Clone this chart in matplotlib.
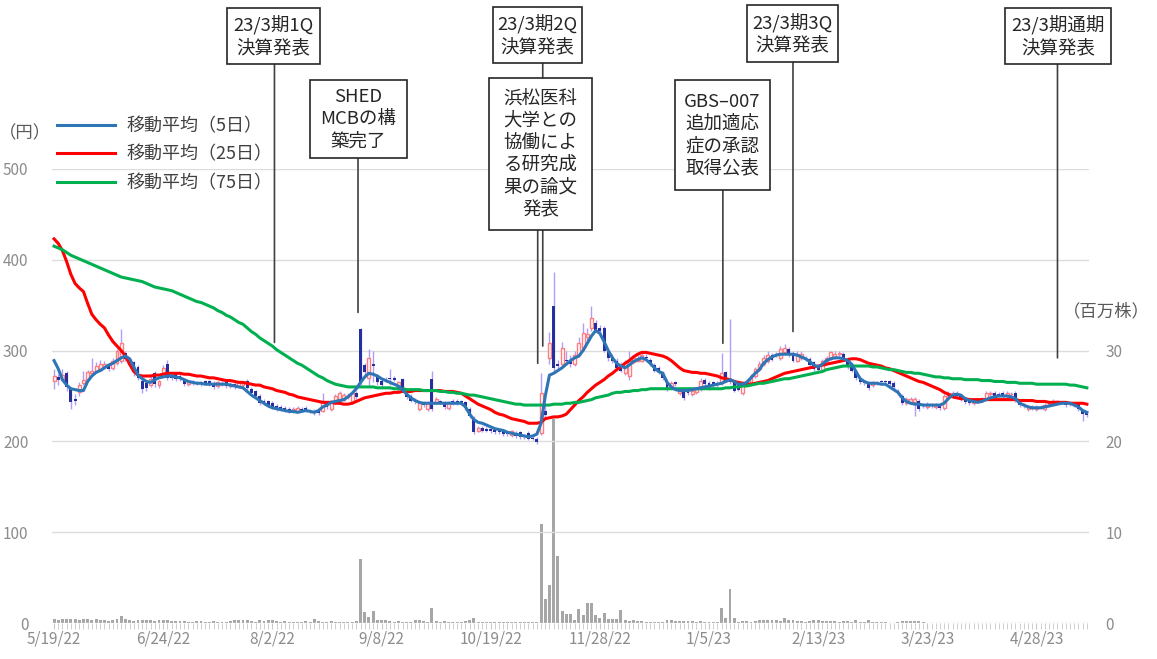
import numpy as np
import pandas as pd
import matplotlib
matplotlib.use('Agg')
import matplotlib.pyplot as plt
from matplotlib.patches import Rectangle, ConnectionPatch
from matplotlib.transforms import blended_transform_factory

plt.rcParams['font.family'] = ['Noto Sans CJK JP', 'DejaVu Sans']

# Tokyo exchange closed days inside the period
holidays = ['2022-07-18', '2022-08-11', '2022-09-19', '2022-09-23', '2022-10-10',
            '2022-11-03', '2022-11-23', '2023-01-02', '2023-01-03', '2023-01-09',
            '2023-02-23', '2023-03-21', '2023-05-03', '2023-05-04', '2023-05-05']
dates = pd.bdate_range('2022-05-19', '2023-05-19', freq='C', holidays=holidays)

tick_labels = ['5/19/22', '6/24/22', '8/2/22', '9/8/22', '10/19/22',
               '11/28/22', '1/5/23', '2/13/23', '3/23/23', '4/28/23']

# daily prices (yen)
opens = [266, 271, 268, 275, 258, 247, 254, 264, 269, 275,
         277, 279, 283, 284, 281, 286, 288, 297, 285, 287,
         282, 266, 264, 262, 275, 262, 275, 285, 272, 274,
         272, 267, 263, 266, 265, 265, 266, 266, 264, 261,
         264, 265, 261, 263, 261, 262, 267, 258, 255, 250,
         245, 244, 242, 239, 238, 237, 236, 233, 234, 236,
         237, 234, 234, 233, 234, 242, 236, 243, 245, 246,
         249, 243, 253, 324, 284, 270, 285, 272, 267, 268,
         270, 270, 258, 269, 256, 250, 246, 236, 242, 236,
         269, 243, 244, 243, 237, 245, 245, 244, 243, 236,
         226, 212, 215, 214, 214, 213, 211, 212, 209, 207,
         209, 210, 206, 209, 204, 203, 209, 234, 292, 349,
         285, 285, 290, 290, 285, 295, 303, 315, 325, 330,
         325, 325, 298, 293, 289, 284, 275, 272, 287, 289,
         289, 293, 290, 284, 281, 275, 267, 261, 265, 253,
         256, 254, 252, 254, 258, 268, 264, 265, 263, 264,
         276, 270, 265, 262, 253, 264, 264, 272, 280, 285,
         288, 295, 296, 292, 298, 302, 297, 289, 292, 292,
         291, 287, 282, 278, 288, 292, 293, 296, 296, 291,
         282, 277, 270, 266, 265, 262, 265, 266, 266, 266,
         264, 256, 250, 242, 243, 243, 245, 240, 238, 240,
         238, 240, 237, 250, 252, 253, 250, 247, 244, 242,
         245, 245, 248, 252, 253, 252, 253, 250, 252, 253,
         242, 240, 236, 237, 236, 238, 236, 240, 242, 243,
         243, 243, 242, 241, 241, 234, 232]
closes = [272, 268, 273, 260, 243, 245, 262, 268, 276, 278,
          283, 285, 285, 280, 289, 299, 308, 291, 290, 276,
          270, 258, 259, 269, 263, 266, 281, 270, 270, 269,
          269, 263, 265, 264, 264, 263, 264, 263, 260, 265,
          263, 261, 263, 260, 265, 264, 259, 253, 250, 242,
          242, 240, 238, 236, 236, 235, 233, 236, 237, 235,
          234, 233, 231, 231, 244, 238, 244, 250, 253, 251,
          250, 253, 249, 265, 276, 292, 283, 265, 262, 267,
          269, 268, 265, 256, 249, 245, 243, 242, 240, 242,
          236, 247, 243, 238, 243, 242, 242, 242, 237, 228,
          210, 215, 212, 212, 211, 210, 210, 208, 208, 211,
          206, 205, 205, 203, 203, 199, 253, 229, 308, 281,
          283, 303, 288, 285, 295, 308, 319, 318, 336, 322,
          322, 300, 292, 289, 281, 278, 287, 289, 292, 292,
          295, 292, 285, 278, 276, 270, 258, 264, 263, 256,
          248, 253, 255, 258, 267, 263, 259, 261, 262, 275,
          267, 265, 256, 257, 265, 267, 272, 280, 285, 292,
          295, 290, 295, 302, 303, 295, 289, 296, 296, 291,
          284, 280, 279, 289, 292, 298, 296, 297, 292, 282,
          278, 270, 265, 264, 259, 265, 264, 265, 265, 263,
          260, 253, 242, 247, 247, 247, 236, 239, 241, 239,
          240, 237, 250, 253, 253, 250, 247, 243, 242, 245,
          246, 247, 253, 253, 250, 251, 250, 253, 252, 245,
          240, 239, 238, 238, 238, 238, 240, 241, 245, 244,
          243, 240, 241, 240, 236, 230, 229]
highs = [280, 274, 280, 277, 260, 252, 265, 278, 279, 292,
         287, 290, 289, 286, 292, 302, 324, 300, 292, 289,
         284, 268, 266, 272, 277, 268, 284, 290, 275, 276,
         274, 269, 267, 268, 267, 267, 268, 268, 266, 267,
         266, 267, 265, 265, 267, 266, 269, 260, 257, 252,
         247, 246, 244, 241, 240, 239, 238, 238, 239, 238,
         239, 236, 236, 235, 253, 244, 246, 252, 255, 253,
         253, 255, 255, 325, 286, 302, 300, 274, 269, 271,
         280, 272, 267, 270, 258, 252, 248, 244, 244, 244,
         278, 249, 246, 245, 245, 247, 247, 246, 245, 238,
         228, 217, 217, 216, 216, 215, 213, 214, 211, 213,
         211, 212, 208, 211, 206, 205, 275, 240, 320, 386,
         290, 310, 300, 295, 300, 315, 330, 325, 349, 334,
         328, 327, 300, 296, 292, 287, 290, 300, 295, 295,
         298, 296, 292, 286, 283, 277, 269, 266, 267, 258,
         258, 256, 257, 260, 270, 270, 266, 267, 266, 297,
         278, 335, 267, 264, 267, 269, 274, 282, 288, 295,
         300, 297, 298, 305, 307, 304, 299, 299, 300, 294,
         293, 289, 284, 291, 294, 300, 299, 299, 298, 293,
         284, 279, 272, 268, 267, 267, 267, 268, 268, 268,
         266, 258, 252, 249, 249, 249, 247, 242, 243, 242,
         242, 242, 252, 255, 255, 255, 252, 249, 246, 247,
         248, 249, 255, 255, 255, 254, 255, 255, 254, 255,
         244, 242, 240, 240, 240, 240, 242, 243, 247, 246,
         245, 245, 244, 243, 243, 236, 234]
lows = [258, 262, 266, 255, 236, 240, 250, 262, 267, 273,
        275, 277, 280, 278, 279, 284, 286, 288, 282, 272,
        268, 253, 255, 260, 260, 259, 272, 268, 268, 267,
        267, 261, 261, 262, 262, 261, 262, 261, 258, 259,
        261, 259, 259, 258, 259, 260, 257, 251, 248, 240,
        240, 238, 236, 234, 234, 232, 231, 231, 232, 233,
        232, 231, 229, 229, 232, 236, 234, 241, 243, 244,
        247, 241, 247, 262, 273, 262, 265, 262, 260, 265,
        262, 266, 256, 254, 247, 243, 241, 234, 238, 234,
        234, 241, 241, 236, 235, 240, 240, 240, 235, 226,
        208, 210, 210, 210, 209, 208, 208, 206, 206, 205,
        204, 203, 203, 201, 201, 197, 207, 226, 285, 278,
        280, 282, 285, 282, 283, 293, 300, 312, 322, 320,
        319, 298, 289, 286, 278, 276, 273, 268, 285, 287,
        287, 290, 283, 276, 274, 268, 256, 259, 261, 251,
        246, 251, 250, 252, 256, 261, 257, 259, 260, 262,
        265, 263, 254, 255, 251, 262, 262, 270, 278, 283,
        286, 288, 293, 290, 296, 293, 287, 287, 290, 289,
        282, 278, 277, 276, 286, 290, 291, 294, 290, 280,
        276, 268, 263, 262, 257, 260, 262, 263, 263, 261,
        258, 251, 240, 240, 241, 228, 234, 237, 236, 237,
        236, 235, 235, 248, 250, 248, 245, 241, 240, 240,
        243, 243, 246, 250, 248, 249, 248, 248, 250, 243,
        238, 237, 234, 235, 234, 236, 234, 238, 240, 241,
        241, 238, 239, 238, 234, 223, 227]

# daily volume (million shares)
volume = [0.4, 0.3, 0.4, 0.4, 0.4, 0.4, 0.3, 0.45, 0.45, 0.3,
          0.4, 0.3, 0.3, 0.2, 0.3, 0.4, 0.75, 0.4, 0.3, 0.2,
          0.3, 0.35, 0.3, 0.3, 0.2, 0.3, 0.3, 0.3, 0.2, 0.2,
          0.2, 0.2, 0.15, 0.15, 0.2, 0.2, 0.15, 0.15, 0.2, 0.15,
          0.15, 0.15, 0.2, 0.3, 0.3, 0.35, 0.3, 0.2, 0.15, 0.3,
          0.2, 0.3, 0.3, 0.2, 0.15, 0.2, 0.15, 0.15, 0.15, 0.15,
          0.2, 0.15, 0.4, 0.2, 0.15, 0.15, 0.2, 0.15, 0.15, 0.15,
          0.15, 0.15, 0.2, 7.0, 1.2, 0.7, 1.3, 0.3, 0.3, 0.3,
          0.2, 0.15, 0.2, 0.15, 0.15, 0.15, 0.3, 0.3, 0.2, 0.15,
          1.65, 0.2, 0.15, 0.2, 0.15, 0.15, 0.1, 0.15, 0.2, 0.3,
          0.5, 0.15, 0.1, 0.1, 0.1, 0.1, 0.1, 0.1, 0.1, 0.1,
          0.1, 0.1, 0.1, 0.1, 0.15, 0.1, 10.9, 2.6, 4.2, 22.5,
          7.4, 1.3, 1.0, 0.95, 0.35, 1.5, 0.9, 2.2, 2.2, 0.9,
          0.55, 1.1, 0.45, 0.45, 0.45, 1.4, 0.35, 0.25, 0.3, 0.2,
          0.2, 0.15, 0.15, 0.15, 0.1, 0.1, 0.35, 0.35, 0.2, 0.2,
          0.2, 0.2, 0.2, 0.15, 0.2, 0.15, 0.15, 0.1, 0.15, 1.65,
          0.5, 3.8, 0.5, 0.15, 0.2, 0.2, 0.1, 0.2, 0.3, 0.3,
          0.35, 0.3, 0.3, 0.2, 0.5, 0.3, 0.3, 0.25, 0.2, 0.1,
          0.2, 0.3, 0.3, 0.25, 0.2, 0.2, 0.2, 0.1, 0.2, 0.2,
          0.1, 0.3, 0.1, 0.1, 0.3, 0.1, 0.1, 0.1, 0.1, 0.05,
          0.05, 0.1, 0.2, 0.2, 0.2, 0.25, 0.2, 0.1, 0.05, 0.05,
          0.05, 0.05, 0.05, 0.05, 0.05, 0.05, 0.05, 0.05, 0.05, 0.05,
          0.05, 0.05, 0.05, 0.05, 0.05, 0.05, 0.05, 0.05, 0.05, 0.05,
          0.05, 0.05, 0.05, 0.05, 0.05, 0.05, 0.05, 0.05, 0.05, 0.05,
          0.05, 0.05, 0.05, 0.05, 0.05, 0.05, 0.05]

# moving averages (daily)
ma5 = [289, 280, 268, 262, 258, 257, 256, 256, 266, 272,
       276, 278, 281, 284, 286, 289, 292, 294, 291, 282,
       273, 269, 266, 265, 268, 270, 271, 272, 272, 271,
       270, 268, 266, 265, 264, 264, 263, 263, 263, 263,
       263, 263, 262, 261, 260, 259, 255, 251, 248, 245,
       242, 239, 237, 236, 235, 234, 233, 233, 232, 233,
       234, 233, 232, 234, 238, 240, 243, 244, 245, 246,
       249, 253, 258, 265, 271, 275, 274, 272, 269, 267,
       265, 263, 261, 257, 252, 248, 245, 243, 242, 242,
       242, 242, 242, 242, 242, 242, 242, 242, 238, 230,
       224, 221, 220, 218, 216, 214, 213, 212, 210, 209,
       208, 207, 206, 205, 206, 208, 220, 250, 273, 275,
       278, 281, 285, 289, 292, 294, 300, 308, 316, 322,
       319, 310, 300, 292, 286, 283, 281, 284, 288, 290,
       292, 290, 286, 281, 277, 275, 265, 260, 257, 256,
       256, 256, 257, 258, 259, 260, 261, 262, 263, 264,
       266, 268, 266, 263, 263, 265, 270, 275, 279, 286,
       290, 293, 295, 296, 296, 296, 296, 295, 293, 291,
       288, 284, 282, 285, 289, 291, 292, 292, 291, 289,
       285, 277, 269, 266, 264, 264, 264, 263, 263, 260,
       257, 254, 248, 244, 242, 241, 241, 240, 240, 240,
       240, 240, 242, 247, 251, 252, 251, 247, 245, 244,
       243, 244, 246, 248, 249, 250, 250, 250, 249, 247,
       242, 240, 238, 237, 237, 237, 238, 239, 240, 241,
       242, 242, 242, 240, 238, 234, 232]
ma25 = [423, 418, 410, 398, 384, 374, 369, 365, 352, 340,
        334, 329, 325, 317, 310, 305, 300, 294, 285, 277,
        273, 272, 272, 272, 273, 273, 274, 275, 275, 275,
        275, 274, 274, 273, 272, 272, 271, 270, 270, 269,
        268, 267, 267, 266, 265, 265, 264, 263, 262, 262,
        260, 259, 258, 256, 255, 254, 252, 251, 249, 248,
        247, 246, 245, 244, 243, 243, 243, 242, 242, 241,
        241, 242, 244, 246, 248, 249, 250, 251, 252, 253,
        253, 254, 254, 255, 255, 255, 256, 256, 256, 256,
        256, 256, 256, 255, 255, 255, 254, 253, 250, 247,
        244, 241, 239, 237, 235, 232, 230, 229, 227, 225,
        224, 223, 222, 220, 220, 220, 221, 225, 226, 227,
        227, 228, 230, 235, 240, 245, 249, 254, 258, 262,
        265, 268, 272, 275, 279, 282, 286, 289, 293, 296,
        298, 298, 297, 296, 295, 294, 292, 289, 285, 281,
        278, 277, 276, 276, 275, 275, 274, 273, 272, 270,
        269, 268, 266, 265, 264, 263, 263, 264, 265, 266,
        267, 269, 271, 273, 275, 276, 277, 278, 279, 280,
        281, 282, 283, 284, 285, 286, 287, 288, 289, 290,
        291, 291, 290, 288, 286, 285, 284, 283, 281, 280,
        278, 276, 274, 272, 270, 268, 266, 265, 263, 261,
        259, 257, 254, 252, 249, 248, 247, 247, 246, 246,
        246, 246, 246, 246, 246, 246, 246, 246, 246, 246,
        245, 245, 245, 245, 244, 244, 244, 243, 243, 243,
        243, 243, 242, 242, 242, 242, 241]
ma75 = [415, 413, 411, 408, 405, 403, 401, 399, 397, 395,
        393, 391, 389, 387, 385, 383, 381, 380, 379, 378,
        377, 376, 374, 372, 370, 369, 368, 367, 366, 364,
        362, 360, 358, 356, 354, 353, 351, 349, 347, 344,
        342, 339, 337, 334, 331, 329, 325, 321, 318, 314,
        311, 308, 305, 301, 298, 295, 292, 289, 286, 284,
        281, 278, 275, 272, 270, 267, 265, 263, 262, 261,
        260, 260, 260, 260, 260, 260, 260, 259, 259, 259,
        259, 258, 258, 258, 257, 257, 257, 257, 256, 256,
        256, 256, 255, 255, 254, 254, 253, 253, 252, 251,
        251, 250, 249, 248, 247, 246, 245, 244, 243, 242,
        241, 241, 240, 240, 240, 240, 240, 240, 240, 241,
        241, 241, 242, 242, 243, 243, 244, 245, 246, 248,
        249, 250, 251, 253, 254, 254, 255, 255, 256, 256,
        257, 257, 258, 258, 258, 258, 258, 258, 258, 258,
        258, 258, 258, 258, 258, 258, 258, 258, 258, 258,
        259, 259, 260, 260, 261, 261, 262, 263, 264, 264,
        265, 266, 267, 268, 269, 269, 270, 271, 272, 273,
        274, 275, 276, 277, 279, 280, 281, 282, 283, 283,
        283, 283, 283, 283, 283, 282, 282, 281, 280, 279,
        279, 278, 277, 276, 276, 275, 275, 274, 273, 272,
        271, 271, 270, 270, 269, 269, 269, 268, 268, 268,
        268, 267, 267, 267, 266, 266, 266, 265, 265, 265,
        264, 264, 264, 264, 263, 263, 263, 263, 263, 263,
        263, 263, 262, 262, 261, 260, 259]

# callouts: text, leader line day, line end (yen), box left/top/width/height in px
notes = [
    ('23/3期1Q\n決算発表', 52.5, 309, (227, 8, 93, 56)),
    ('SHED\nMCBの構\n築完了', 72.4, 342, (310, 80, 97, 78)),
    ('23/3期2Q\n決算発表', 116.4, 305, (493, 7, 89, 56)),
    ('浜松医科\n大学との\n協働によ\nる研究成\n果の論文\n発表', 115.2, 286, (489, 78, 103, 152)),
    ('GBS–007\n追加適応\n症の承認\n取得公表', 159.3, 308, (675, 80, 95, 110)),
    ('23/3期3Q\n決算発表', 176.0, 321, (747, 5, 91, 57)),
    ('23/3期通期\n決算発表', 239.0, 292, (1005, 8, 106, 56)),
]

grey = '#8c8c8c'
W, H = 1157, 659
x = np.arange(len(dates))
o = np.array(opens)
c = np.array(closes)
up = c >= o

fig = plt.figure(figsize=(W / 100, H / 100), dpi=100)
ax = fig.add_axes([0.0449, 0.0546, 0.8963, 0.689])
axv = ax.twinx()
ax.set_zorder(axv.get_zorder() + 1)
ax.patch.set_visible(False)

# volume
axv.bar(x, volume, width=0.7, color='#a6a6a6')
axv.set_ylim(0, 50)
axv.set_yticks([0, 10, 20, 30])

# candles
ax.vlines(x, lows, highs, color='#b39cf5', lw=1, zorder=2)
ax.bar(x[up], (c - o)[up], bottom=o[up], width=0.7, facecolor='white',
       edgecolor='#ff7c80', lw=1, zorder=3)
ax.bar(x[~up], (o - c)[~up], bottom=c[~up], width=0.7, color='#23309e', zorder=3)

l5, = ax.plot(x, ma5, color='#2e75b6', lw=2.2, zorder=5, label='移動平均（5日）')
l25, = ax.plot(x, ma25, color='#ff0000', lw=2.2, zorder=4, label='移動平均（25日）')
l75, = ax.plot(x, ma75, color='#00b050', lw=2.2, zorder=4, label='移動平均（75日）')

ax.set_xlim(-0.5, len(dates) - 0.5)
ax.set_ylim(0, 500)
ax.set_yticks(range(0, 501, 100))
ax.grid(axis='y', color='#dcdcdc', lw=1)
ax.set_axisbelow(True)

label_days = [list(dates.strftime('%-m/%-d/%y')).index(t) for t in tick_labels]
ax.set_xticks(label_days)
ax.set_xticklabels(tick_labels)
ax.set_xticks(x, minor=True)

for a in (ax, axv):
    for s in a.spines.values():
        s.set_visible(False)
ax.tick_params(axis='y', length=0, labelsize=11, labelcolor=grey, pad=17)
axv.tick_params(axis='y', length=0, labelsize=11, labelcolor=grey, pad=12)
ax.tick_params(axis='x', which='both', length=4, color='#c8c8c8', labelsize=11,
               labelcolor=grey, pad=1.5)

fig.text(0.0216, 0.798, '（円）', fontsize=12.5, color='#595959', ha='center', va='center')
fig.text(0.956, 0.527, '（百万株）', fontsize=12.5, color='#595959', ha='center', va='center')

fig.legend(handles=[l5, l25, l75], loc='upper left', bbox_to_anchor=(0.0493, 0.8215),
           frameon=False, fontsize=13, handlelength=3.2, handletextpad=0.65,
           labelspacing=0.56, borderpad=0, borderaxespad=0, labelcolor='#404040')

# callout boxes with leader lines
tr = blended_transform_factory(ax.transData, fig.transFigure)
for text, lx, ly, (bx, by, bw, bh) in notes:
    yc = 1 - (by + bh / 2) / H
    fig.add_artist(ConnectionPatch((lx, ly), (lx, yc), coordsA=ax.transData, coordsB=tr,
                                   color='#404040', lw=1.2, zorder=3))
    fig.add_artist(Rectangle((bx / W, 1 - (by + bh) / H), bw / W, bh / H,
                             transform=fig.transFigure, facecolor='white',
                             edgecolor='#262626', lw=1.2, zorder=4))
    fig.text((bx + bw / 2) / W, yc, text, ha='center', va='center', fontsize=13.3,
             color='#262626', linespacing=1.3, zorder=5)

fig.savefig('out.png', dpi=100)
